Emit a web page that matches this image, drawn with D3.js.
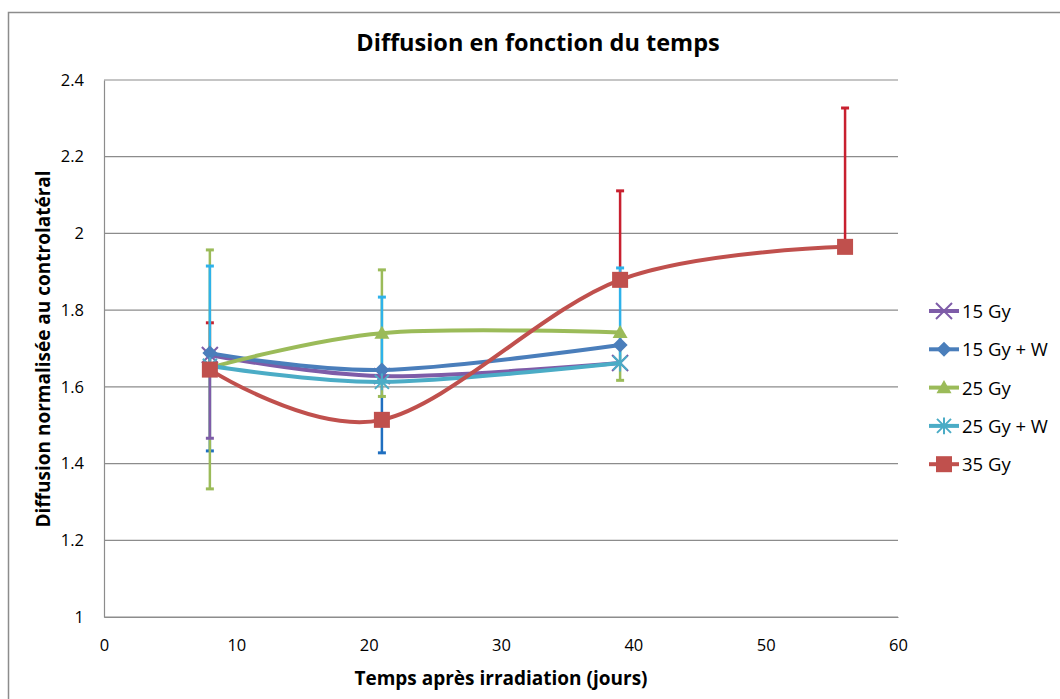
<!DOCTYPE html>
<html><head><meta charset="utf-8">
<script src="https://cdn.jsdelivr.net/npm/d3@7"></script>
<style>body{margin:0;background:#fff;} svg{display:block;} svg text{font-family:"Open Sans",sans-serif;}</style>
</head><body>
<svg id="c" width="1060" height="699"></svg>
<script>
const xDays = [8, 21, 39, 56];
const seriesNames = ["15 Gy", "15 Gy + W", "25 Gy", "25 Gy + W", "35 Gy"];
const v15 = [1.683, 1.628, 1.662];
const v15W = [1.688, 1.644, 1.709];
const v25 = [1.650, 1.740, 1.742];
const v25W = [1.655, 1.613, 1.662];
const v35 = [1.645, 1.514, 1.879, 1.965];
const errUp15 = [0.0, 0.0, 0.0];
const errDn15 = [0.217, 0.0, 0.0];
const errUp15W = [0.0, 0.0, 0.0];
const errDn15W = [0.255, 0.216, 0.0];
const errUp25 = [0.307, 0.165, 0.0];
const errDn25 = [0.316, 0.165, 0.125];
const errUp25W = [0.26, 0.221, 0.248];
const errDn25W = [0.0, 0.0, 0.0];
const errUp35 = [0.122, 0.0, 0.232, 0.362];
const errDn35 = [0.0, 0.0, 0.0, 0.0];
const yTicks = [1, 1.2, 1.4, 1.6, 1.8, 2, 2.2, 2.4];
const xTicks = [0, 10, 20, 30, 40, 50, 60];

const svg = d3.select("#c");
const x = d3.scaleLinear().domain([0, 60]).range([104, 898]);
const y = d3.scaleLinear().domain([1, 2.4]).range([617, 80]);

svg.append("rect").attr("x", 8.5).attr("y", 12.5).attr("width", 1060).attr("height", 700)
  .attr("fill", "#fff").attr("stroke", "#8c8c8c").attr("stroke-width", 1.5);

svg.append("g").selectAll("line").data(yTicks).join("line")
  .attr("x1", x(0)).attr("x2", x(60)).attr("y1", d => y(d)).attr("y2", d => y(d))
  .attr("stroke", "#8c8c8c").attr("stroke-width", 1.2);

const gx = svg.append("g").attr("transform", `translate(0,${y(1)})`)
  .call(d3.axisBottom(x).tickValues(xTicks).tickSize(0).tickPadding(22).tickFormat(d3.format("d")));
gx.attr("font-size", null).attr("font-family", null);
gx.select(".domain").attr("stroke", "#8c8c8c").attr("stroke-width", 1.2);
gx.selectAll("text").style("font-size", "16.5px").attr("fill", "#000");
const gy = svg.append("g").attr("transform", `translate(${x(0)},0)`)
  .call(d3.axisLeft(y).tickValues(yTicks).tickSize(0).tickPadding(20).tickFormat(d => d3.format("")(d)));
gy.attr("font-size", null).attr("font-family", null);
gy.select(".domain").attr("stroke", "#8c8c8c").attr("stroke-width", 1.2);
gy.selectAll("text").style("font-size", "16.5px").attr("fill", "#000");

svg.append("text").attr("x", 538).attr("y", 51).attr("text-anchor", "middle")
  .style("font-size", "23.5px").attr("font-weight", "bold").text("Diffusion en fonction du temps");
svg.append("text").attr("x", 501).attr("y", 685).attr("text-anchor", "middle")
  .style("font-size", "19px").attr("font-weight", "bold").text("Temps après irradiation (jours)");
svg.append("text").attr("transform", "translate(50,349) rotate(-90)").attr("text-anchor", "middle")
  .style("font-size", "19px").attr("font-weight", "bold").text("Diffusion normalisée au controlatéral");

const series = [
  {name: seriesNames[0], vals: v15, up: errUp15, dn: errDn15, color: "#7E5CA8", err: "#7E5CA8", marker: "x", errOrder: 4},
  {name: seriesNames[1], vals: v15W, up: errUp15W, dn: errDn15W, color: "#4A7EBB", err: "#1F6FC0", marker: "diamond", errOrder: 1},
  {name: seriesNames[2], vals: v25, up: errUp25, dn: errDn25, color: "#9BBB59", err: "#9BBB59", marker: "triangle", errOrder: 2},
  {name: seriesNames[3], vals: v25W, up: errUp25W, dn: errDn25W, color: "#4BACC6", err: "#2EB2EA", marker: "star", errOrder: 3},
  {name: seriesNames[4], vals: v35, up: errUp35, dn: errDn35, color: "#C0504D", err: "#C8202F", marker: "square", errOrder: 0}
];

const line = d3.line().x(d => x(d[0])).y(d => y(d[1])).curve(d3.curveCatmullRom.alpha(0));

function drawMarker(g, type, cx, cy, color) {
  if (type === "x") {
    const r = 8;
    g.append("path").attr("d", `M${cx-r},${cy-r}L${cx+r},${cy+r}M${cx-r},${cy+r}L${cx+r},${cy-r}`)
      .attr("stroke", color).attr("stroke-width", 2).attr("fill", "none");
  } else if (type === "diamond") {
    const r = 7.5;
    g.append("path").attr("d", `M${cx},${cy-r}L${cx+r},${cy}L${cx},${cy+r}L${cx-r},${cy}Z`).attr("fill", color);
  } else if (type === "triangle") {
    const r = 7.5;
    g.append("path").attr("d", `M${cx},${cy-r}L${cx+r},${cy+r*0.75}L${cx-r},${cy+r*0.75}Z`).attr("fill", color);
  } else if (type === "star") {
    const r = 7;
    g.append("path").attr("d", `M${cx-r},${cy-r}L${cx+r},${cy+r}M${cx-r},${cy+r}L${cx+r},${cy-r}M${cx},${cy-r*1.2}L${cx},${cy+r*1.2}`)
      .attr("stroke", color).attr("stroke-width", 2).attr("fill", "none");
  } else if (type === "square") {
    const r = 8;
    g.append("rect").attr("x", cx-r).attr("y", cy-r).attr("width", 2*r).attr("height", 2*r).attr("fill", color);
  }
}

const gErr = svg.append("g");
const gLines = svg.append("g");
series.slice().sort((a, b) => a.errOrder - b.errOrder).forEach(s => {
  s.vals.forEach((v, i) => {
    const cx = x(xDays[i]);
    [[s.up[i], 1], [s.dn[i], -1]].forEach(([e, sgn]) => {
      if (e > 0) {
        const ye = y(v + sgn * e);
        gErr.append("line").attr("x1", cx).attr("x2", cx).attr("y1", y(v)).attr("y2", ye)
          .attr("stroke", s.err).attr("stroke-width", 2.5);
        gErr.append("line").attr("x1", cx - 4).attr("x2", cx + 4).attr("y1", ye).attr("y2", ye)
          .attr("stroke", s.err).attr("stroke-width", 3);
      }
    });
  });
});
series.forEach(s => {
  const pts = s.vals.map((v, i) => [xDays[i], v]);
  const g = gLines.append("g");
  g.append("path").datum(pts).attr("d", line).attr("fill", "none")
    .attr("stroke", s.color).attr("stroke-width", 4).attr("stroke-linecap", "round");
  pts.forEach(p => drawMarker(g, s.marker, x(p[0]), y(p[1]), s.color));
});

const leg = svg.append("g");
series.forEach((s, i) => {
  const ly = 311 + i * 38.3;
  leg.append("line").attr("x1", 929).attr("x2", 959).attr("y1", ly).attr("y2", ly)
    .attr("stroke", s.color).attr("stroke-width", 4);
  drawMarker(leg, s.marker, 944, ly, s.color);
  leg.append("text").attr("x", 962).attr("y", ly + 7).style("font-size", "18.5px").text(s.name);
});
</script>
</body></html>
